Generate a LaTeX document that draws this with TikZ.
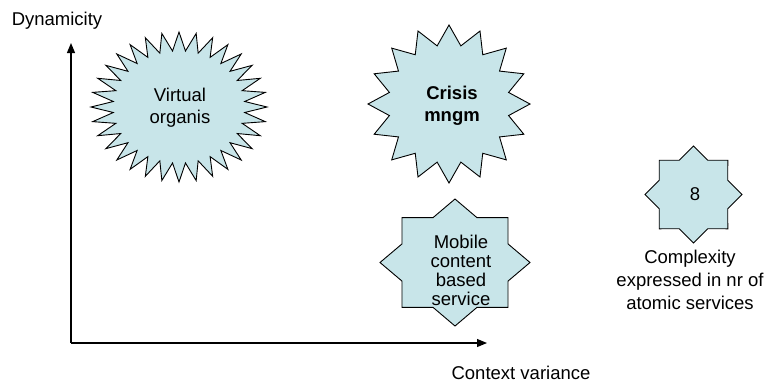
\documentclass[tikz,border=0pt]{standalone}
\usepackage{fontspec}
\setmainfont{Liberation Sans}
\usetikzlibrary{arrows.meta}
\definecolor{starblue}{RGB}{200,229,233}
\newcommand\drawstar[7]{% cx cy rx ry n ratio samples
  \draw[starshape] plot[samples=#7, domain=0:#7-1, variable=\k]
   ({#1 + #3*(1-(1-#6)*mod(round(\k),2))*cos(90+180*\k/#5)},
    {#2 - #4*(1-(1-#6)*mod(round(\k),2))*sin(90+180*\k/#5)}) -- cycle;
}
\tikzset{
  starshape/.style={fill=starblue, draw=black, line width=0.9bp, line join=miter},
  axisline/.style={line width=1.1bp, -{Triangle[length=10bp,width=8bp]}},
  lbl/.style={font=\fontsize{18.5bp}{22bp}\selectfont, align=center, inner sep=0pt},
}
\begin{document}
\begin{tikzpicture}[x=1bp,y=-1bp]
\useasboundingbox (0,0) rectangle (774,385);
% axes
\coordinate (origin) at (71,343);
\coordinate (ytip) at (71,43);
\coordinate (xtip) at (487,343);
\draw[axisline] (origin) -- (ytip);
\draw[axisline] (origin) -- (xtip);
% stars
\drawstar{179}{107}{88}{75}{32}{0.75}{65}
\drawstar{449}{104}{81}{79}{16}{0.75}{33}
\drawstar{455}{262.5}{75}{63.5}{8}{0.765}{17}
\drawstar{693.5}{194.5}{48.5}{48.5}{8}{0.765}{17}
% labels
\node[lbl] (dyn) at (57,21) {Dynamicity};
\node[lbl] (ctx) at (521,373) {Context variance};
\node[lbl] (vo) at (180,108) {Virtual\\organis};
\node[lbl, font=\fontsize{18.5bp}{22bp}\selectfont\bfseries] (cm) at (452,106) {Crisis\\mngm};
\node[lbl, font=\fontsize{18.5bp}{19bp}\selectfont] (mob) at (461,270.5) {Mobile\\content\\based\\service};
\node[lbl] (eight) at (695,194) {8};
\node[lbl, font=\fontsize{18.5bp}{23bp}\selectfont] (cplx) at (690,280) {Complexity\\expressed in nr of\\atomic services};
\end{tikzpicture}
\end{document}
